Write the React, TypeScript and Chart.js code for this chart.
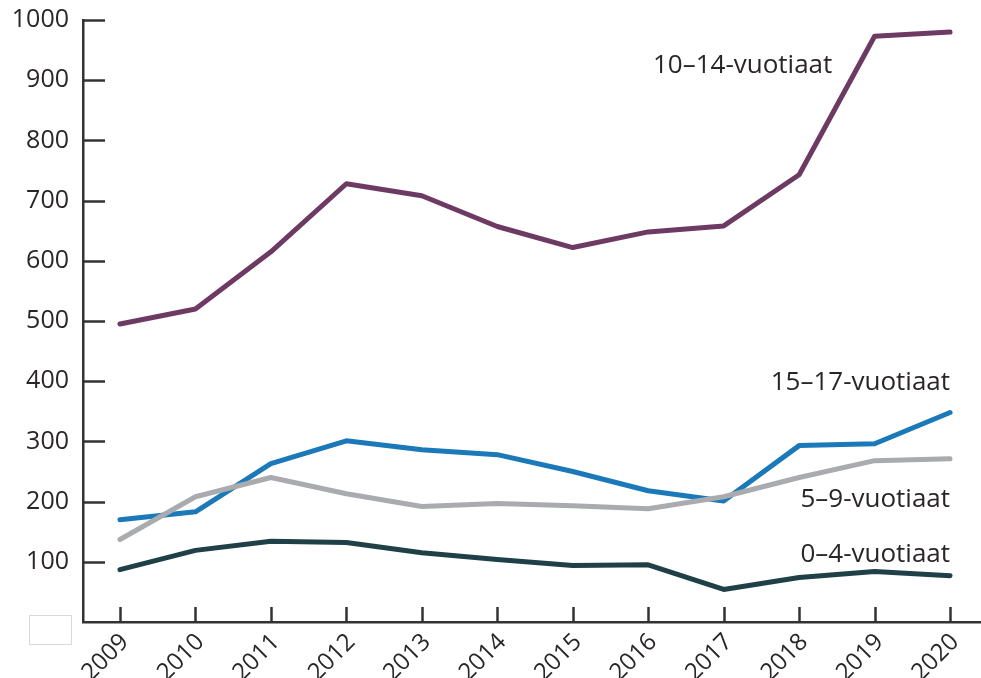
import React, { useEffect, useRef } from "react";
import { Chart, registerables } from "chart.js";

Chart.register(...registerables);

const years = [2009, 2010, 2011, 2012, 2013, 2014, 2015, 2016, 2017, 2018, 2019, 2020];
const age10to14 = [495, 520, 615, 728, 708, 657, 622, 648, 658, 743, 973, 980];
const age15to17 = [170, 183, 263, 301, 286, 278, 250, 218, 201, 293, 296, 348];
const age5to9 = [137, 208, 240, 213, 192, 197, 193, 188, 208, 240, 268, 271];
const age0to4 = [87, 119, 134, 132, 115, 104, 94, 95, 54, 74, 84, 77];
const yTicks = [100, 200, 300, 400, 500, 600, 700, 800, 900, 1000];

const seriesLabels = [
  { text: "10–14-vuotiaat", x: 2018.44, y: 912 },
  { text: "15–17-vuotiaat", x: 2020, y: 386 },
  { text: "5–9-vuotiaat", x: 2020, y: 191 },
  { text: "0–4-vuotiaat", x: 2020, y: 100 },
];

const FONT = "'Open Sans', 'Noto Sans', sans-serif";
const TEXT = "#2a2627";
const AXIS = "#333333";

const toPoints = (vals: number[]) => vals.map((v, i) => ({ x: years[i], y: v }));

const decorPlugin = {
  id: "decor",
  afterDatasetsDraw(chart: any) {
    const { ctx, scales } = chart;
    const xs = scales.x;
    const ys = scales.y;
    const area = chart.chartArea;
    ctx.save();
    ctx.strokeStyle = AXIS;
    ctx.lineWidth = 2.5;
    ctx.lineCap = "butt";
    yTicks.forEach((t) => {
      const py = Math.round(ys.getPixelForValue(t)) + 0.5;
      ctx.beginPath();
      ctx.moveTo(area.left, py);
      ctx.lineTo(area.left + 22, py);
      ctx.stroke();
    });
    years.forEach((yr) => {
      const px = Math.round(xs.getPixelForValue(yr)) + 0.5;
      ctx.beginPath();
      ctx.moveTo(px, area.bottom);
      ctx.lineTo(px, area.bottom - 15);
      ctx.stroke();
    });
    ctx.fillStyle = TEXT;
    ctx.font = `26px ${FONT}`;
    ctx.textAlign = "right";
    ctx.textBaseline = "alphabetic";
    seriesLabels.forEach((l) => {
      ctx.fillText(l.text, xs.getPixelForValue(l.x), ys.getPixelForValue(l.y));
    });
    ctx.strokeStyle = "#d8d8d8";
    ctx.lineWidth = 1;
    ctx.strokeRect(29.5, 615.5, 42, 29);
    ctx.restore();
  },
};

export default function App() {
  const ref = useRef<HTMLCanvasElement | null>(null);

  useEffect(() => {
    if (!ref.current) return;
    const mk = (label: string, data: number[], color: string) => ({
      label,
      data: toPoints(data),
      borderColor: color,
      backgroundColor: color,
      borderWidth: 5,
      pointRadius: 0,
      tension: 0,
      borderCapStyle: "round" as const,
      borderJoinStyle: "round" as const,
    });
    const chart = new Chart(ref.current, {
      type: "line",
      data: {
        datasets: [
          mk("0–4-vuotiaat", age0to4, "#1f4047"),
          mk("5–9-vuotiaat", age5to9, "#a9abae"),
          mk("15–17-vuotiaat", age15to17, "#1b79b9"),
          mk("10–14-vuotiaat", age10to14, "#6d3a63"),
        ],
      },
      options: {
        animation: false,
        responsive: false,
        devicePixelRatio: 1,
        layout: { padding: { top: 20, right: 0, left: 0, bottom: 0 } },
        plugins: { legend: { display: false }, tooltip: { enabled: false } },
        scales: {
          x: {
            type: "linear",
            min: 2008.51,
            max: 2020.41,
            afterBuildTicks: (s: any) => {
              s.ticks = years.map((v) => ({ value: v }));
            },
            afterFit: (s: any) => {
              s.height = 56;
              s.paddingLeft = 0;
              s.paddingRight = 0;
            },
            grid: { display: false, drawTicks: false },
            border: { display: true, color: AXIS, width: 2.5 },
            ticks: {
              autoSkip: false,
              maxRotation: 45,
              minRotation: 45,
              padding: 6,
              labelOffset: 5,
              color: TEXT,
              font: { family: FONT, size: 24 },
              callback: (v: any) => String(v),
            },
          },
          y: {
            min: 0,
            max: 1000,
            afterBuildTicks: (s: any) => {
              s.ticks = yTicks.map((v) => ({ value: v }));
            },
            afterFit: (s: any) => {
              s.width = 83;
              s.paddingTop = 0;
              s.paddingBottom = 0;
            },
            grid: { display: false, drawTicks: false },
            border: { display: true, color: AXIS, width: 2.5 },
            ticks: {
              padding: 14,
              color: TEXT,
              font: { family: FONT, size: 25 },
              callback: (v: any) => String(v),
            },
          },
        },
      },
      plugins: [decorPlugin],
    });
    return () => chart.destroy();
  }, []);

  return (
    <div style={{ position: "absolute", left: 0, top: 0, width: 981, height: 678, background: "#fff" }}>
      <canvas ref={ref} width={981} height={678} style={{ display: "block", width: 981, height: 678 }} />
    </div>
  );
}
